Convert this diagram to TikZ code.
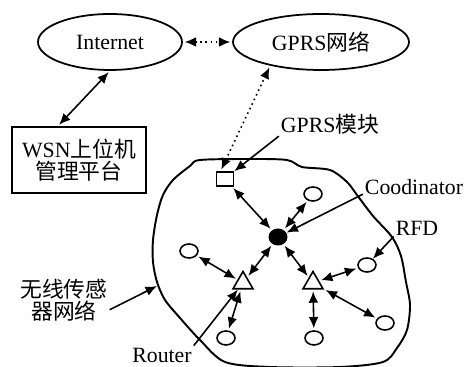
\documentclass[tikz,border=0pt]{standalone}
\usepackage{fontspec}
\setmainfont{Liberation Serif}
\newfontfamily\cjk{Noto Sans CJK SC}
\usetikzlibrary{arrows.meta, shapes.geometric}

\begin{document}
\begin{tikzpicture}[
    x=0.02cm, y=-0.02cm,
    font=\fontsize{12.4}{12.8}\selectfont,
    net/.style={draw, ellipse, line width=1pt, inner sep=0pt, minimum height=1.12cm},
    box/.style={draw, rectangle, line width=1pt, minimum width=2.68cm, minimum height=1.32cm, align=center},
    rfd/.style={draw, ellipse, line width=0.9pt, minimum width=0.36cm, minimum height=0.28cm, inner sep=0pt},
    router/.style={draw, regular polygon, regular polygon sides=3, line width=0.9pt, minimum size=0.46cm, inner sep=0pt},
    coordnode/.style={fill, ellipse, minimum width=0.38cm, minimum height=0.34cm, inner sep=0pt},
    gmod/.style={draw, rectangle, line width=0.9pt, minimum width=0.34cm, minimum height=0.28cm, inner sep=0pt},
    lbl/.style={inner sep=1pt, align=center},
    arr/.style={{Latex[length=6.5pt,width=5.5pt]}-{Latex[length=6.5pt,width=5.5pt]}, line width=0.9pt, shorten <=1pt, shorten >=1pt},
    dotarr/.style={arr, dotted},
    ptr/.style={-{Latex[length=6.5pt,width=5.5pt]}, line width=0.9pt},
  ]
  \useasboundingbox (0,0) rectangle (464,367);

  % upper part
  \node[net, minimum width=2.88cm] (inet) at (110,42) {Internet};
  \node[net, minimum width=3.52cm] (gprs) at (321,42) {GPRS{\cjk 网络}};
  \node[box] (wsnbox) at (79,160) {WSN{\cjk 上位机}\\{\cjk 管理平台}};
  \draw[dotarr] (inet.east) -- (gprs.west);
  \draw[arr] (inet.south) -- (wsnbox.122);

  % sensor field
  \draw[line width=1.1pt] plot[smooth cycle, tension=0.5] coordinates {
    (200,160) (250,159) (287,160) (302,167) (330,170) (347,182) (357,195)
    (373,216) (392,237) (401,256) (406,282) (410,305) (407,330) (397,348)
    (383,362) (340,367) (270,367) (225,362) (200,340) (180,318) (165,300)
    (157,282) (153,262) (153,240) (157,215) (163,195) (173,180) (190,166)};
  \coordinate (fieldedge) at (157,286);

  \node[gmod] (module) at (225,179) {};
  \node[coordnode] (coord) at (278,237) {};
  \node[router] (rtL) at (243,283) {};
  \node[router] (rtR) at (313,283) {};
  \node[rfd] (rfdT)  at (313,194) {};
  \node[rfd] (rfdL)  at (189,251) {};
  \node[rfd] (rfdR)  at (367,265) {};
  \node[rfd] (rfdBL) at (226,338) {};
  \node[rfd] (rfdBM) at (314,338) {};
  \node[rfd] (rfdBR) at (385,323) {};

  \draw[dotarr] (module.120) -- (gprs.205);
  \draw[arr] (module) -- (coord);
  \draw[arr] (rfdT) -- (coord);
  \draw[arr] (coord) -- (rtL);
  \draw[arr] (coord) -- (rtR);
  \draw[arr] (rfdL) -- (rtL);
  \draw[arr] (rfdBL) -- (rtL);
  \draw[arr] (rfdR) -- (rtR);
  \draw[arr] (rfdBM) -- (rtR);
  \draw[arr] (rfdBR) -- (rtR);

  % labels
  \node[lbl] (gmlbl) at (330,124) {GPRS{\cjk 模块}};
  \node[lbl] (coordlbl) at (414,187) {Coodinator};
  \node[lbl] (rfdlbl) at (417,228) {RFD};
  \node[lbl] (rtlbl) at (162,355) {Router};
  \node[lbl] (fieldlbl) at (64,300) {{\cjk 无线传感}\\{\cjk 器网络}};
  \draw[ptr] (gmlbl.south west) -- (module.north east);
  \draw[ptr] (coordlbl.188) -- (coord);
  \draw[ptr] (rfdlbl.200) -- (rfdR);
  \draw[ptr] (rtlbl.north east) -- (rtL);
  \draw[ptr] (fieldlbl.-12) -- (fieldedge);
\end{tikzpicture}
\end{document}
